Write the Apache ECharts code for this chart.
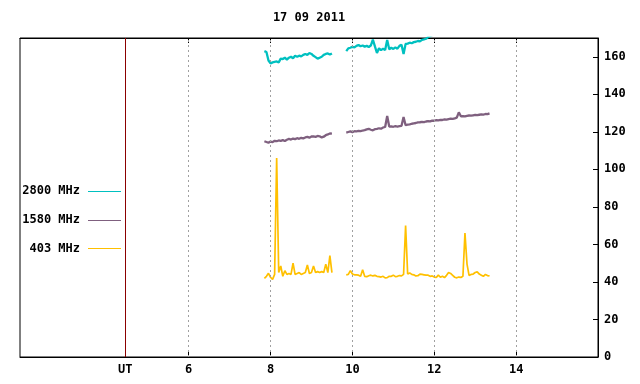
<!DOCTYPE html>
<html>
<head>
<meta charset="utf-8">
<script src="https://cdn.jsdelivr.net/npm/echarts@6/dist/echarts.min.js"></script>
<style>
html,body{margin:0;padding:0;background:#fff;}
#c{width:640px;height:384px;}
</style>
</head>
<body>
<div id="c"></div>
<script>
// ---- data ----
var title = '17 09 2011';
var seriesNames = ['2800 MHz', '1580 MHz', '403 MHz'];
var seriesColors = ['#00c0c0', '#7f607f', '#ffc000'];
var timeStart = 7.85;      // UT hours of first sample
var timeStep = 0.05;       // sampling step (hours)
var xTickValues = [6, 8, 10, 12, 14];
var xLabelValues = [4.45, 6, 8, 10, 12, 14];
var utMarker = 4.45;
var yTickValues = [0, 20, 40, 60, 80, 100, 120, 140, 160];

// 2800 MHz
var f2800 = [
 163,162.5,158,156.5,157,157.3,157.5,157,159,158.8,159.5,158.5,159.5,160,159.2,160.5,160,160.6,160.2,161,161.5,161,162,161.5,160.5,159.8,159,159.5,160,161,161.5,161.8,161.2,161.8,
 null,null,null,null,null,null,
 163,164.5,164.8,165.3,165,165.8,166.3,165.6,166,165.4,165.8,165.2,166,169.2,165.5,162,164.5,163.5,164.3,163.6,169,164,164.8,164.2,165,164.3,165.8,166.4,161.5,166.8,167,167.5,167.2,167.8,168,168.4,168.2,169,169.3,169.6,170.5,171,171.5,172,172.3,172.6,173,173.2,173.5,174,174.2,174.5,174.8,175,175.3,175.6,176,176.2,176.5,176.8,177,177.3,177.5,177.8,178,178.3,178.5,178.8,179,179.2,179.5
];
// 1580 MHz
var f1580 = [
 115,114.6,114.2,114.8,114.5,115.2,115,115.4,115.2,115.6,115.1,115.8,116.2,115.9,116.4,116.1,116.6,116.3,116.8,116.5,117,117.3,116.9,117.5,117.6,117.3,117.8,117.6,117,117.4,118.2,118.6,119.1,119,
 null,null,null,null,null,null,
 119.6,119.9,120.2,119.8,120.3,120.2,120.5,120.4,120.7,120.9,121.3,121.6,121.1,120.8,121.4,121.6,121.9,121.7,122.3,122.6,128.4,122.8,122.9,122.7,123,122.8,123,123.2,127.9,123.5,123.8,124,124.3,124.5,124.7,125,125.1,125.3,125.2,125.5,125.7,125.6,126,125.9,126.2,126.1,126.4,126.3,126.6,126.5,126.8,127,126.9,127.2,127.6,130.4,128.3,128.4,128.2,128.5,128.7,128.6,128.8,129,128.9,129.1,129.3,129.2,129.5,129.4,129.8
];
// 403 MHz
var f403 = [
 41.9,43,44.6,42.5,41.4,44,106,45,48.5,43,46,44,44.5,44,50,44,44.5,45,44,44.5,45,49,44.5,45,48.5,45,45.5,45,45.5,45,49.5,45,54,45,
 null,null,null,null,null,null,
 43.8,44,46,44.2,43.8,43.8,43.6,43,46.5,43,42.8,43.3,43.6,43.2,43.5,43,42.8,42.6,43,42.2,42.3,43,43,43.6,42.8,43,43.4,43.2,44,70,44.2,44.8,44,43.8,43.2,43.3,44.2,44,43.8,43.6,43.6,43,43.2,42.6,42.4,43.6,42.5,43,42.3,43.5,45,44.5,43.5,42.5,42.2,42.6,42.4,43,66,49.5,43.5,44,44.2,45,45.4,44.2,43.6,43,44,43.4,43.2
];

var seriesValues = [f2800, f1580, f403];

function toPairs(vals) {
  return vals.map(function (v, i) {
    return [+(timeStart + i * timeStep).toFixed(3), v];
  });
}

var font = '"DejaVu Sans Mono", "Liberation Mono", monospace';

var chart = echarts.init(document.getElementById('c'), null, {renderer: 'canvas'});

var series = [];
// gridlines + UT marker (behind data)
series.push({
  type: 'line',
  data: [],
  silent: true,
  z: 1,
  markLine: {
    silent: true,
    symbol: ['none', 'none'],
    animation: false,
    label: {show: false},
    lineStyle: {color: '#a0a0a0', type: [2, 3], width: 1},
    emphasis: {disabled: true},
    data: xTickValues.map(function (v) { return {xAxis: v}; }).concat([
      {xAxis: utMarker, lineStyle: {color: '#8b0000', type: 'solid', width: 1}}
    ])
  }
});
seriesNames.forEach(function (n, k) {
  series.push({
    name: n,
    type: 'line',
    data: toPairs(seriesValues[k]),
    showSymbol: false,
    symbol: 'none',
    connectNulls: false,
    clip: true,
    z: 3,
    lineStyle: {color: seriesColors[k], width: k === 2 ? 1.7 : 2.3},
    itemStyle: {color: seriesColors[k]},
    emphasis: {disabled: true}
  });
});

var legendGraphics = [];
seriesNames.forEach(function (n, k) {
  var y = 191 + k * 28.7;
  legendGraphics.push({
    type: 'text', x: 80, y: y,
    style: {text: n, align: 'right', verticalAlign: 'middle', fill: '#000',
            font: 'bold 12px ' + font}
  });
  legendGraphics.push({
    type: 'line', shape: {x1: 88, y1: Math.round(y) + 0.5, x2: 121, y2: Math.round(y) + 0.5},
    style: {stroke: seriesColors[k], lineWidth: 1}
  });
});

chart.setOption({
  animation: false,
  backgroundColor: '#fff',
  title: {
    text: title,
    left: 309,
    top: 12,
    textAlign: 'center',
    padding: 0,
    textStyle: {fontFamily: font, fontWeight: 'bold', fontSize: 12, color: '#000'}
  },
  grid: {
    left: 20, top: 38, width: 578, height: 319,
    show: true, borderColor: '#000', borderWidth: 1, backgroundColor: 'transparent'
  },
  xAxis: [{
    type: 'value', min: 1.88, max: 16.0, position: 'bottom',
    axisLine: {show: true, lineStyle: {color: '#000', width: 1}},
    axisTick: {show: true, inside: true, length: 5, customValues: xTickValues, lineStyle: {color: '#000'}},
    axisLabel: {
      show: true, customValues: xLabelValues, margin: 7,
      fontFamily: font, fontWeight: 'bold', fontSize: 12, color: '#000',
      formatter: function (v) { return Math.abs(v - utMarker) < 1e-6 ? 'UT' : String(v); }
    },
    splitLine: {show: false}
  }, {
    type: 'value', min: 1.88, max: 16.0, position: 'top',
    axisLine: {show: true, lineStyle: {color: '#000', width: 1}},
    axisTick: {show: true, inside: true, length: 5, customValues: xTickValues, lineStyle: {color: '#000'}},
    axisLabel: {show: false},
    splitLine: {show: false}
  }],
  yAxis: [{
    type: 'value', min: 0, max: 170, position: 'right',
    axisLine: {show: true, lineStyle: {color: '#000', width: 1}},
    axisTick: {show: true, inside: true, length: 5, customValues: yTickValues, lineStyle: {color: '#000'}},
    axisLabel: {
      show: true, customValues: yTickValues, margin: 6,
      fontFamily: font, fontWeight: 'bold', fontSize: 12, color: '#000'
    },
    splitLine: {show: false}
  }],
  graphic: legendGraphics,
  series: series
});
</script>
</body>
</html>
